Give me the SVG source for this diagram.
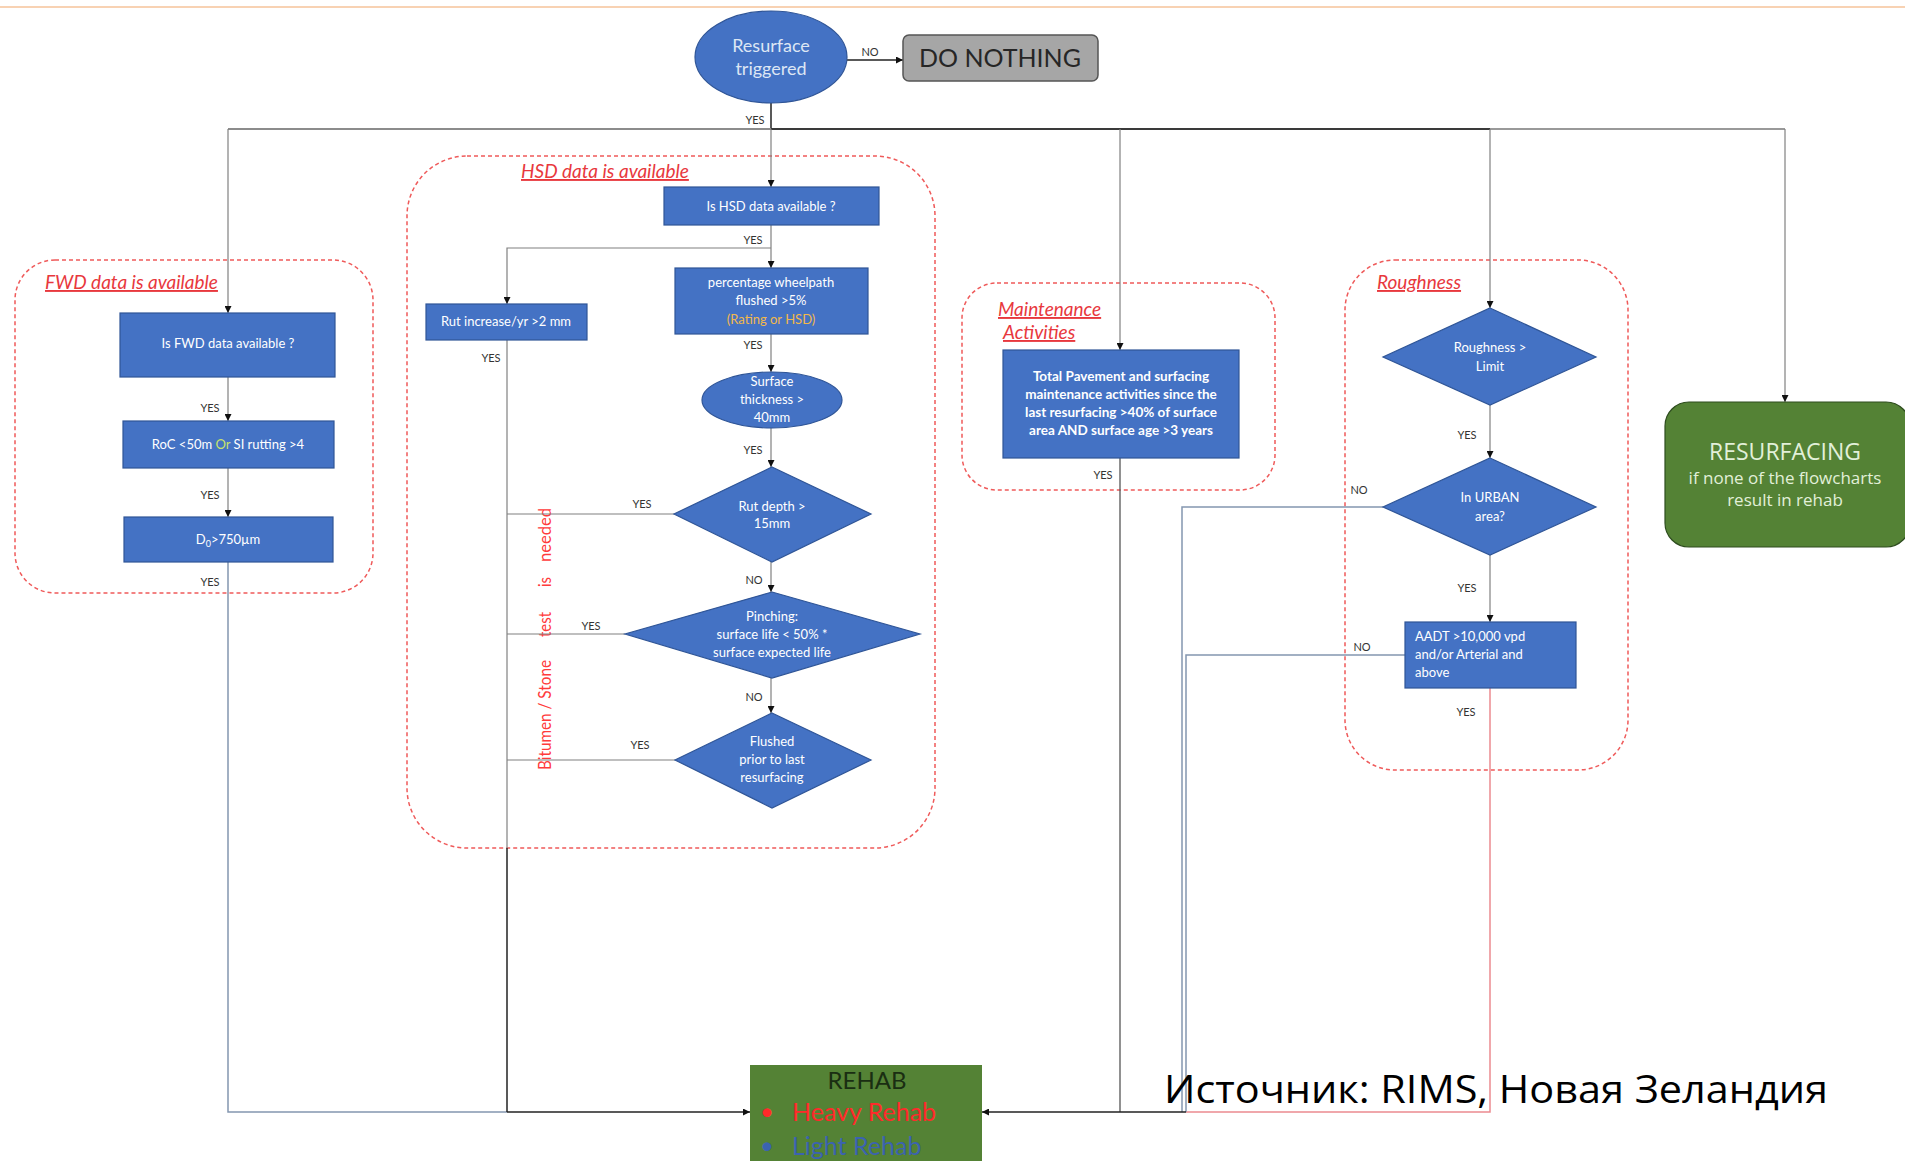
<svg xmlns="http://www.w3.org/2000/svg" width="1905" height="1161" viewBox="0 0 1905 1161">
<style>
.bg{fill:#ffffff}
.panel{fill:none;stroke:#ef5a5a;stroke-width:1.5;stroke-dasharray:4 3}
.ptitle{font-family:Lato,"Liberation Sans",sans-serif;font-style:italic;font-size:19px;fill:#e8383d;text-decoration:underline}
.box{fill:#4472c4;stroke:#2f5597;stroke-width:1.2}
.t{font-family:Lato,"Liberation Sans",sans-serif;font-size:13px;fill:#ffffff;text-anchor:middle}
.ts{font-family:Lato,"Liberation Sans",sans-serif;font-size:13px;fill:#ffffff;text-anchor:start}
.tb{font-family:Lato,"Liberation Sans",sans-serif;font-size:13.5px;font-weight:bold;fill:#ffffff;text-anchor:middle}
.lbl{font-family:Lato,"Liberation Sans",sans-serif;font-size:11px;fill:#333333;text-anchor:middle}
.ln{fill:none;stroke:#808080;stroke-width:1.2}
.dk{fill:none;stroke:#222222;stroke-width:1.5}
.bl{fill:none;stroke:#8497b0;stroke-width:1.5}
.rd{fill:none;stroke:#ec8a90;stroke-width:1.5}
.red{font-family:Lato,"Liberation Sans",sans-serif;font-size:17px;fill:#ff3b3b}
</style>
<defs>
<marker id="arr" viewBox="0 0 10 10" refX="10" refY="5" markerWidth="7" markerHeight="7" markerUnits="userSpaceOnUse" orient="auto">
<path d="M0,0 L10,5 L0,10 z" fill="#111111"/>
</marker>
</defs>
<rect class="bg" x="0" y="0" width="1905" height="1161"/>
<line x1="0" y1="7" x2="1905" y2="7" stroke="#f6c39a" stroke-width="1.5"/>

<g id="panels">
<g id="panel-fwd">
<rect class="panel" x="15" y="260" width="358" height="333" rx="40"/>
<text class="ptitle" x="45" y="289">FWD data is available</text>
</g>
<g id="panel-hsd">
<rect class="panel" x="407" y="156" width="528" height="692" rx="60"/>
<text class="ptitle" x="521" y="178">HSD data is available</text>
<text class="red" transform="translate(551,0) rotate(-90)" x="-770" y="0" textLength="110" lengthAdjust="spacingAndGlyphs">Bitumen / Stone</text>
<text class="red" transform="translate(551,0) rotate(-90)" x="-637" y="0" textLength="25" lengthAdjust="spacingAndGlyphs">test</text>
<text class="red" transform="translate(551,0) rotate(-90)" x="-587" y="0" textLength="10" lengthAdjust="spacingAndGlyphs">is</text>
<text class="red" transform="translate(551,0) rotate(-90)" x="-562" y="0" textLength="54" lengthAdjust="spacingAndGlyphs">needed</text>
</g>
<g id="panel-maint">
<rect class="panel" x="962" y="283" width="313" height="207" rx="35"/>
<text class="ptitle" x="998" y="316">Maintenance</text>
<text class="ptitle" x="1003" y="339"> Activities</text>
</g>
<g id="panel-rough">
<rect class="panel" x="1345" y="260" width="283" height="510" rx="50"/>
<text class="ptitle" x="1377" y="289">Roughness</text>
</g>
</g>

<g id="connectors">
<path class="dk" d="M847,60 H903" marker-end="url(#arr)"/>
<path class="dk" d="M771,103 V129"/>
<path fill="none" stroke="#8c8c8c" stroke-width="1.8" d="M228,129 H771"/>
<path fill="none" stroke="#3a3a3a" stroke-width="2.2" d="M771,129 H1490"/>
<path fill="none" stroke="#999999" stroke-width="1.8" d="M1490,129 H1785"/>
<path class="ln" d="M228,129 V313" marker-end="url(#arr)"/>
<path class="ln" d="M228,377 V421" marker-end="url(#arr)"/>
<path class="ln" d="M228,468 V517" marker-end="url(#arr)"/>
<path class="bl" d="M228,562 V1112 H507"/>
<path class="dk" d="M507,1112 H750" marker-end="url(#arr)"/>
<path class="ln" d="M771,129 V187" marker-end="url(#arr)"/>
<path class="ln" d="M771,225 V268" marker-end="url(#arr)"/>
<path class="ln" d="M771,248 H507 V304" marker-end="url(#arr)"/>
<path class="ln" d="M771,334 V372" marker-end="url(#arr)"/>
<path class="ln" d="M771,428 V467" marker-end="url(#arr)"/>
<path class="ln" d="M771,562 V592" marker-end="url(#arr)"/>
<path class="ln" d="M771,678 V713" marker-end="url(#arr)"/>
<path class="ln" d="M507,340 V848"/>
<path class="dk" d="M507,848 V1112"/>
<path class="ln" d="M674,514 H507"/>
<path class="ln" d="M625,634 H507"/>
<path class="ln" d="M675,760 H507"/>
<path class="ln" d="M1120,129 V350" marker-end="url(#arr)"/>
<path fill="none" stroke="#555555" stroke-width="1.3" d="M1120,458 V1112"/>
<path class="ln" d="M1490,129 V308" marker-end="url(#arr)"/>
<path class="ln" d="M1490,405 V458" marker-end="url(#arr)"/>
<path class="ln" d="M1490,555 V622" marker-end="url(#arr)"/>
<path class="rd" d="M1490,688 V1112 H1186"/>
<path class="bl" d="M1383,507 H1182 V1112"/>
<path class="bl" d="M1405,655 H1186 V1112"/>
<path class="dk" d="M1186,1112 H982" marker-end="url(#arr)"/>
<path class="ln" d="M1785,129 V402" marker-end="url(#arr)"/>
</g>

<g id="labels">
<text class="lbl" x="870" y="56" font-size="10">NO</text>
<text class="lbl" x="755" y="124">YES</text>
<text class="lbl" x="210" y="412">YES</text>
<text class="lbl" x="210" y="499">YES</text>
<text class="lbl" x="210" y="586">YES</text>
<text class="lbl" x="753" y="244">YES</text>
<text class="lbl" x="491" y="362">YES</text>
<text class="lbl" x="753" y="349">YES</text>
<text class="lbl" x="753" y="454">YES</text>
<text class="lbl" x="642" y="508">YES</text>
<text class="lbl" x="754" y="584">NO</text>
<text class="lbl" x="591" y="630">YES</text>
<text class="lbl" x="754" y="701">NO</text>
<text class="lbl" x="640" y="749">YES</text>
<text class="lbl" x="1103" y="479">YES</text>
<text class="lbl" x="1467" y="439">YES</text>
<text class="lbl" x="1359" y="494">NO</text>
<text class="lbl" x="1467" y="592">YES</text>
<text class="lbl" x="1362" y="651">NO</text>
<text class="lbl" x="1466" y="716">YES</text>
</g>

<g id="n-resurface">
<ellipse class="box" cx="771" cy="57" rx="76" ry="46"/>
<text x="771" y="52" font-family="Lato,'Liberation Sans',sans-serif" font-size="18" fill="#dde6f4" text-anchor="middle">Resurface</text>
<text x="771" y="75" font-family="Lato,'Liberation Sans',sans-serif" font-size="18" fill="#dde6f4" text-anchor="middle">triggered</text>
</g>
<g id="n-donothing">
<rect x="903" y="35" width="195" height="46" rx="6" fill="#a6a6a6" stroke="#555555" stroke-width="1.5"/>
<text x="1000" y="67" font-family="Lato,'Liberation Sans',sans-serif" font-size="25" fill="#262626" text-anchor="middle">DO NOTHING</text>
</g>

<g id="n-fwd1">
<rect class="box" x="120" y="313" width="215" height="64"/>
<text class="t" x="228" y="348">Is FWD data available ?</text>
</g>
<g id="n-fwd2">
<rect class="box" x="123" y="421" width="211" height="47"/>
<text class="t" x="228" y="449">RoC &lt;50m <tspan style="fill:#c9e36b">Or</tspan> SI rutting &gt;4</text>
</g>
<g id="n-fwd3">
<rect class="box" x="124" y="517" width="209" height="45"/>
<text class="t" x="228" y="544">D<tspan font-size="9" dy="3">0</tspan><tspan dy="-3">&gt;750µm</tspan></text>
</g>

<g id="n-hsd">
<rect class="box" x="664" y="187" width="215" height="38"/>
<text class="t" x="771" y="211">Is HSD data available ?</text>
</g>
<g id="n-rutinc">
<rect class="box" x="426" y="304" width="161" height="36"/>
<text class="t" x="506" y="326">Rut increase/yr &gt;2 mm</text>
</g>
<g id="n-flushed5">
<rect class="box" x="675" y="268" width="193" height="66"/>
<text class="t" x="771" y="287">percentage wheelpath</text>
<text class="t" x="771" y="305">flushed &gt;5%</text>
<text class="t" x="771" y="324" style="fill:#f2b84b">(Rating or HSD)</text>
</g>
<g id="n-thick">
<ellipse class="box" cx="772" cy="400" rx="70" ry="28"/>
<text class="t" x="772" y="386">Surface</text>
<text class="t" x="772" y="404">thickness &gt;</text>
<text class="t" x="772" y="422">40mm</text>
</g>
<g id="n-rutdepth">
<polygon class="box" points="772,467 871,514 772,562 674,514"/>
<text class="t" x="772" y="511">Rut depth &gt;</text>
<text class="t" x="772" y="528">15mm</text>
</g>
<g id="n-pinch">
<polygon class="box" points="772,592 920,634 772,678 625,634"/>
<text class="t" x="772" y="621">Pinching:</text>
<text class="t" x="772" y="639">surface life &lt; 50% *</text>
<text class="t" x="772" y="657">surface expected life</text>
</g>
<g id="n-flushprior">
<polygon class="box" points="772,713 871,760 772,808 675,760"/>
<text class="t" x="772" y="746">Flushed</text>
<text class="t" x="772" y="764">prior to last</text>
<text class="t" x="772" y="782">resurfacing</text>
</g>

<g id="n-maint">
<rect class="box" x="1003" y="350" width="236" height="108"/>
<text class="tb" x="1121" y="381">Total Pavement and surfacing</text>
<text class="tb" x="1121" y="399">maintenance activities since the</text>
<text class="tb" x="1121" y="417">last resurfacing &gt;40% of surface</text>
<text class="tb" x="1121" y="435">area AND surface age &gt;3 years</text>
</g>

<g id="n-rough">
<polygon class="box" points="1490,308 1596,357 1490,405 1383,357"/>
<text class="t" x="1490" y="352">Roughness &gt;</text>
<text class="t" x="1490" y="371">Limit</text>
</g>
<g id="n-urban">
<polygon class="box" points="1490,458 1596,507 1490,555 1383,507"/>
<text class="t" x="1490" y="502">In URBAN</text>
<text class="t" x="1490" y="521">area?</text>
</g>
<g id="n-aadt">
<rect class="box" x="1405" y="622" width="171" height="66"/>
<text class="ts" x="1415" y="641">AADT &gt;10,000 vpd</text>
<text class="ts" x="1415" y="659">and/or Arterial and</text>
<text class="ts" x="1415" y="677">above</text>
</g>

<g id="n-resurfacing">
<rect x="1665" y="402" width="245" height="145" rx="24" fill="#548235" stroke="#2e4d1e" stroke-width="1.2"/>
<text x="1785" y="460" font-family="'Open Sans',Lato,sans-serif" font-size="23" fill="#e2f0d9" text-anchor="middle">RESURFACING</text>
<text x="1785" y="484" font-family="'Open Sans',Lato,sans-serif" font-size="17" fill="#e2f0d9" text-anchor="middle">if none of the flowcharts</text>
<text x="1785" y="506" font-family="'Open Sans',Lato,sans-serif" font-size="17" fill="#e2f0d9" text-anchor="middle">result in rehab</text>
</g>

<g id="n-rehab">
<rect x="750" y="1065" width="232" height="100" fill="#548235"/>
<text x="867" y="1089" font-family="Lato,'Liberation Sans',sans-serif" font-size="24" fill="#1a2e12" text-anchor="middle">REHAB</text>
<text x="760" y="1120" font-family="Lato,'Liberation Sans',sans-serif" font-size="24" fill="#ff2a2a">•</text>
<text x="792" y="1121" font-family="Lato,'Liberation Sans',sans-serif" font-size="25" fill="#ff2a2a">Heavy Rehab</text>
<text x="760" y="1154" font-family="Lato,'Liberation Sans',sans-serif" font-size="24" fill="#3b63b0">•</text>
<text x="792" y="1155" font-family="Lato,'Liberation Sans',sans-serif" font-size="25" fill="#3b63b0">Light Rehab</text>
</g>

<text x="1164" y="1103" font-family="'Open Sans','Liberation Sans',sans-serif" font-size="38" fill="#000000" textLength="664" lengthAdjust="spacingAndGlyphs">Источник: RIMS, Новая Зеландия</text>
</svg>
